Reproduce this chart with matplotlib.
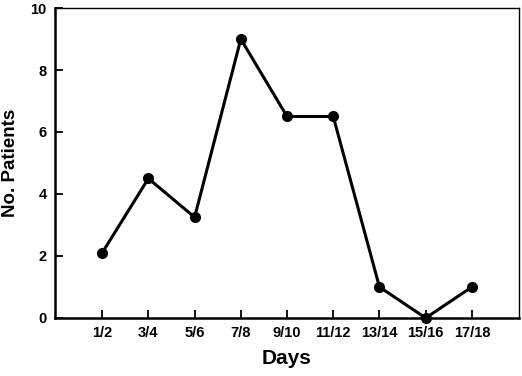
import matplotlib
matplotlib.use("Agg")
import matplotlib.pyplot as plt

categories = ["1/2", "3/4", "5/6", "7/8", "9/10", "11/12", "13/14", "15/16", "17/18"]
patients = [2.1, 4.5, 3.25, 9.0, 6.5, 6.5, 1.0, 0.0, 1.0]
y_ticks = [0, 2, 4, 6, 8, 10]

plt.rcParams['font.family'] = ['Liberation Sans', 'DejaVu Sans']
plt.rcParams['font.weight'] = 'bold'

fig = plt.figure(figsize=(5.22, 3.76), dpi=100)
ax = fig.add_axes([0.1054, 0.1543, 0.8889, 0.8244])

x = list(range(1, len(categories) + 1))
ax.plot(x, patients, color='black', linewidth=2.2, marker='o', markersize=7,
        clip_on=False, zorder=3)

ax.set_xlim(-0.02, 10.02)
ax.set_ylim(0, 10)
ax.set_xticks(x)
ax.set_xticklabels(categories)
ax.set_yticks(y_ticks)
ax.set_yticklabels([str(t) for t in y_ticks])

ax.tick_params(axis='both', direction='in', length=6, width=1.3, labelsize=10.5, pad=6)
for lbl in ax.get_xticklabels() + ax.get_yticklabels():
    lbl.set_fontweight('bold')

ax.spines['left'].set_linewidth(1.8)
ax.spines['bottom'].set_linewidth(1.8)
ax.spines['top'].set_linewidth(1.0)
ax.spines['right'].set_linewidth(1.0)

ax.set_xlabel("Days", fontsize=15, fontweight='bold', labelpad=6)
ax.set_ylabel("No. Patients", fontsize=13.5, fontweight='bold', labelpad=8)

fig.savefig("out.png", dpi=100)
